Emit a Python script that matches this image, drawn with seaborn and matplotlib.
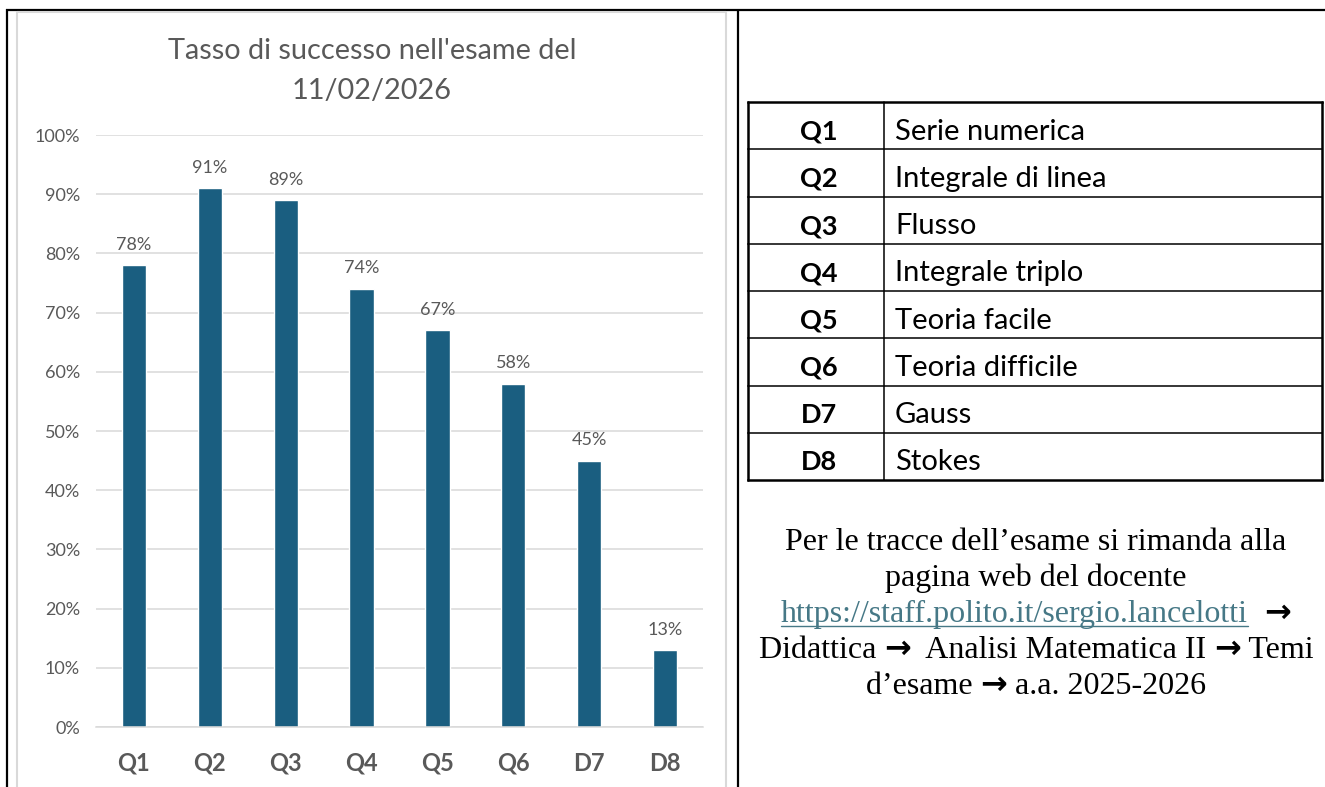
## Manage imports
import numpy as np
import pandas as pd

import matplotlib as mpl

mpl.use('Agg')
import matplotlib.pyplot as plt
import seaborn as sns

## Data
questions = ['Q1', 'Q2', 'Q3', 'Q4', 'Q5', 'Q6', 'D7', 'D8']
success_rate = [78, 91, 89, 74, 67, 58, 45, 13]
topics = ['Serie numerica', 'Integrale di linea', 'Flusso', 'Integrale triplo',
          'Teoria facile', 'Teoria difficile', 'Gauss', 'Stokes']
y_ticks = [0, 10, 20, 30, 40, 50, 60, 70, 80, 90, 100]
chart_title = "Tasso di successo nell'esame del\n11/02/2026"
ARROW = '\u2192'
note_lines = [
    [('Per le tracce dell\u2019esame si rimanda alla', 'txt')],
    [('pagina web del docente', 'txt')],
    [('https://staff.polito.it/sergio.lancelotti', 'link'), ('  ', 'txt'), (ARROW, 'arrow')],
    [('Didattica ', 'txt'), (ARROW, 'arrow'), ('  Analisi Matematica II ', 'txt'),
     (ARROW, 'arrow'), (' Temi', 'txt')],
    [('d\u2019esame ', 'txt'), (ARROW, 'arrow'), (' a.a. 2025-2026', 'txt')],
]

df = pd.DataFrame({'question': questions, 'rate': success_rate})

## Style
BAR = '#1A5E80'
GRAY = '#595959'
GRID = '#D9D9D9'
LINK = '#467886'

sns.set_theme(style='white')
plt.rcParams['font.family'] = ['Lato', 'DejaVu Sans']

W, H = 1325, 787
fig = plt.figure(figsize=(W / 100, H / 100), dpi=100)
fig.patch.set_facecolor('white')

# page layer in pixel units (borders, table, note)
bg = fig.add_axes([0, 0, 1, 1])
bg.set_xlim(0, W)
bg.set_ylim(H, 0)
bg.axis('off')


def px_axes(x0, y0, x1, y1):
    return fig.add_axes([x0 / W, 1 - y1 / H, (x1 - x0) / W, (y1 - y0) / H])


# outer document borders
bg.plot([6, W], [10, 10], color='black', lw=1.6, solid_capstyle='butt')
bg.plot([7, 7], [9, H], color='black', lw=1.6, solid_capstyle='butt')
bg.plot([737.5, 737.5], [9, H], color='black', lw=1.6, solid_capstyle='butt')
# chart frame
bg.plot([16.5, 16.5, 725.5, 725.5], [H, 12, 12, H], color=GRID, lw=1.5)

## Bar chart
ax = px_axes(96, 135, 703, 727)
sns.barplot(data=df, x='question', y='rate', color=BAR, width=0.32,
            saturation=1, ax=ax)
ax.set_xlim(-0.5, len(questions) - 0.5)
ax.set_ylim(0, 100)
ax.set_yticks(y_ticks)
ax.set_yticklabels([f'{v}%' for v in y_ticks])
ax.set_xlabel('')
ax.set_ylabel('')
ax.yaxis.grid(True, color=GRID, lw=1.1)
ax.set_axisbelow(True)
for s in ['top', 'right', 'left']:
    ax.spines[s].set_visible(False)
ax.spines['bottom'].set_color(GRID)
ax.spines['bottom'].set_linewidth(1.1)
ax.set_xticks(np.arange(-0.5, len(questions), 1), minor=True)
ax.tick_params(axis='x', which='minor', length=5.8, width=1.1, color=GRID,
               direction='out')
ax.tick_params(axis='x', which='major', length=0, pad=18, labelsize=17,
               labelcolor=GRAY)
ax.tick_params(axis='y', length=0, pad=11.5, labelsize=13, labelcolor=GRAY)
for lbl in ax.get_xticklabels():
    lbl.set_fontweight('bold')
ax.bar_label(ax.containers[0], labels=[f'{v}%' for v in success_rate],
             padding=9, color=GRAY, fontsize=13)
ax.patch.set_alpha(0)

fig.text(372 / W, 1 - 71 / H, chart_title, ha='center', va='center',
         fontsize=20.8, color=GRAY, linespacing=1.68)

## Table of questions
tx0, txm, tx1 = 748, 884, 1322
ty0, ty1 = 102, 480
row_h = (ty1 - ty0) / len(questions)
for i in range(len(questions) + 1):
    y = ty0 + i * row_h
    outer = i in (0, len(questions))
    bg.plot([tx0, tx1], [y, y], color='black', lw=1.8 if outer else 1.1,
            solid_capstyle='projecting')
bg.plot([tx0, tx0], [ty0, ty1], color='black', lw=1.8)
bg.plot([tx1, tx1], [ty0, ty1], color='black', lw=1.8)
bg.plot([txm, txm], [ty0, ty1], color='black', lw=1.1)
for i, (q, t) in enumerate(zip(questions, topics)):
    yb = ty0 + (i + 0.5) * row_h + 14
    bg.text(819, yb, q, ha='center', va='baseline', fontsize=19.5,
            fontweight='bold', color='black')
    bg.text(txm + 11, yb, t, ha='left', va='baseline', fontsize=21,
            color='black')

## Note under the table
serif = ['Liberation Serif', 'DejaVu Serif']
styles = {
    'txt': dict(family=serif, fontsize=23, color='black'),
    'link': dict(family=serif, fontsize=23, color=LINK),
    'arrow': dict(family=['DejaVu Sans'], fontsize=23, fontweight='bold',
                  color='black'),
}
cx = 1036
base = 550
step = 36
placed = []
for i, segs in enumerate(note_lines):
    y = base + i * step
    row = []
    for s, kind in segs:
        row.append((bg.text(0, y, s, ha='left', va='baseline', **styles[kind]), kind))
    placed.append((y, row))

fig.canvas.draw()
r = fig.canvas.get_renderer()
inv = bg.transData.inverted()


def width_px(t):
    b = t.get_window_extent(r)
    return abs(inv.transform((b.x1, 0))[0] - inv.transform((b.x0, 0))[0])


for y, row in placed:
    widths = [width_px(t) for t, _ in row]
    x = cx - sum(widths) / 2
    for (t, kind), w in zip(row, widths):
        t.set_x(x)
        if kind == 'link':
            bg.plot([x, x + w], [y + 4, y + 4], color=LINK, lw=1.0)
        x += w

fig.savefig('out.png', dpi=100, facecolor='white')
